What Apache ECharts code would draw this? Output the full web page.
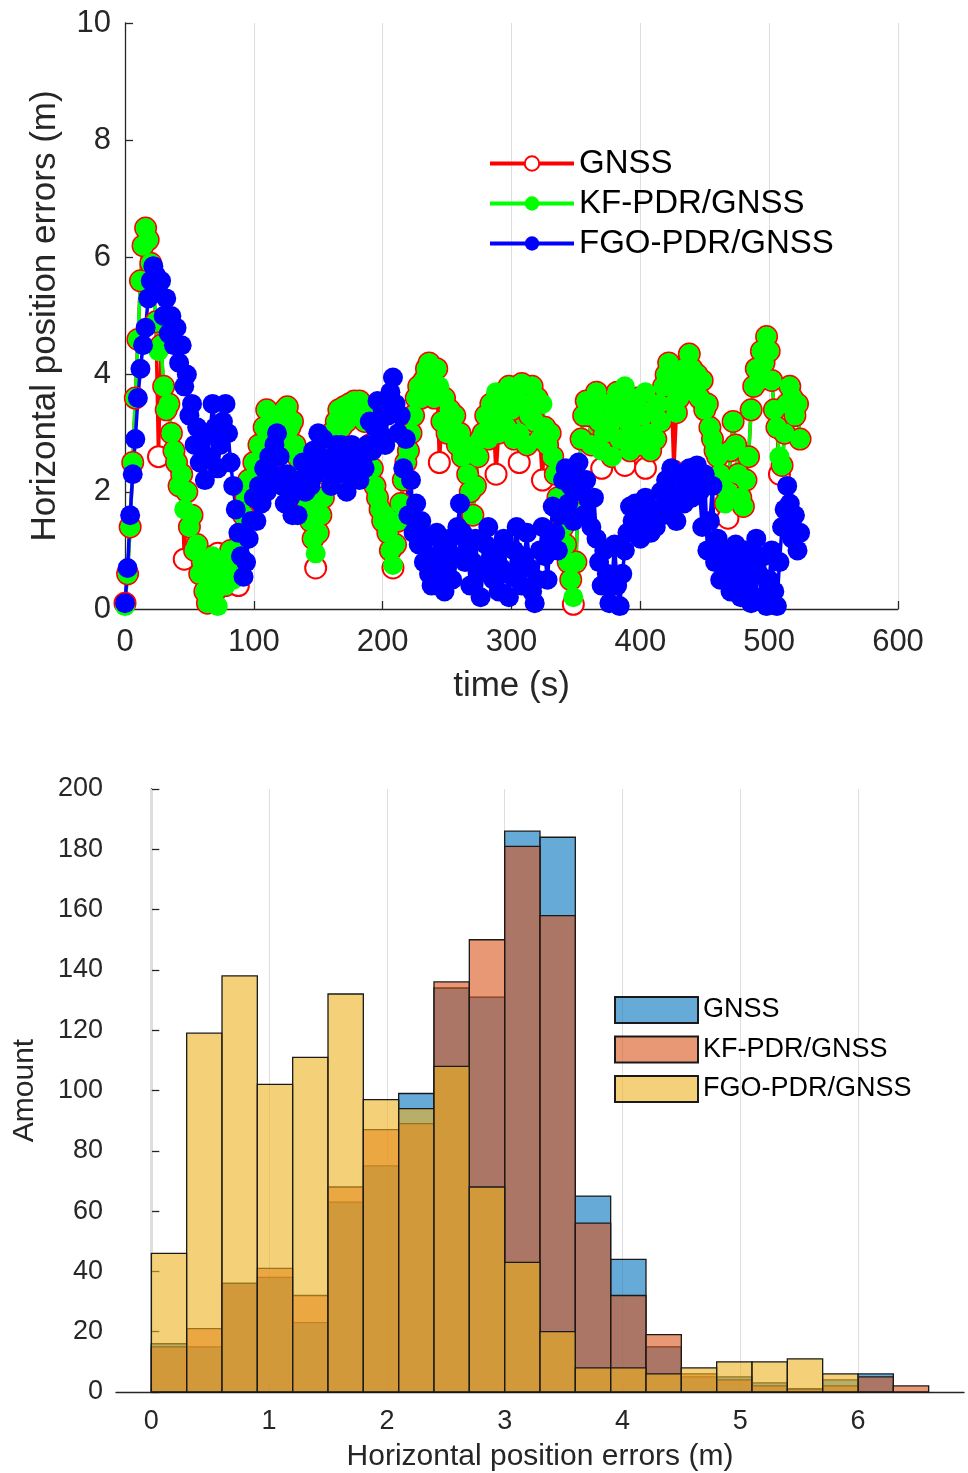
<!DOCTYPE html>
<html>
<head>
<meta charset="utf-8">
<script src="https://cdn.jsdelivr.net/npm/echarts@6/dist/echarts.min.js"></script>
<style>
  html, body { margin: 0; background: #fff; }
  #main { width: 968px; height: 1473px; }
</style>
</head>
<body>
<div id="main"></div>
<script>
// sampling interval of the error series, seconds
const STEP = 2;

// horizontal position errors (m), one value every STEP seconds from t = 0 (20 s per row)
const gnss = [
  0.1, 0.6, 1.4, 2.5, 3.6, 4.6, 5.6, 6.2, 6.5, 6.3,
  5.9, 5.5, 4.9, 2.6, 4.5, 3.8, 3.4, 3.5, 3.0, 2.7,
  2.5, 2.1, 2.3, 0.85, 2.0, 1.4, 1.6, 1.0, 1.1, 0.6,
  0.8, 0.3, 0.1, 0.6, 0.9, 0.3, 0.95, 0.5, 0.8, 0.4,
  0.6, 1.0, 0.5, 0.7, 0.4, 1.2, 1.6, 1.9, 2.2, 2.1,
  2.5, 2.3, 2.8, 2.6, 3.1, 3.4, 3.0, 2.8, 2.6, 3.0,
  3.2, 2.9, 3.4, 3.45, 3.1, 3.2, 2.8, 2.6, 2.4, 2.2,
  2.0, 1.8, 1.5, 1.2, 0.7, 1.3, 1.6, 1.9, 2.3, 2.7,
  3.0, 2.8, 3.2, 3.4, 3.1, 3.45, 3.2, 3.5, 3.3, 3.55,
  3.3, 3.55, 3.4, 3.2, 3.45, 2.8, 2.4, 2.1, 1.9, 1.7,
  1.5, 1.6, 1.3, 1.0, 0.7, 1.1, 1.5, 1.8, 2.2, 2.5,
  2.7, 3.0, 3.3, 3.6, 3.8, 3.6, 3.9, 4.1, 4.2, 3.9,
  3.6, 4.1, 2.5, 3.2, 3.6, 3.0, 3.4, 3.1, 3.3, 2.8,
  3.0, 2.6, 2.8, 2.3, 2.0, 1.6, 2.1, 2.6, 2.9, 3.0,
  3.3, 2.9, 3.5, 3.2, 2.3, 3.0, 3.4, 3.7, 3.1, 3.8,
  3.4, 2.9, 3.6, 2.5, 3.85, 3.5, 2.8, 3.3, 3.8, 3.2,
  3.6, 2.9, 2.2, 3.1, 2.8, 3.0, 2.6, 2.3, 1.9, 1.7,
  1.4, 1.1, 0.8, 0.5, 0.08, 0.8, 2.0, 2.9, 3.3, 3.55,
  3.3, 2.8, 3.4, 3.7, 3.2, 2.4, 3.0, 3.5, 3.1, 2.6,
  3.3, 3.7, 2.9, 3.4, 2.45, 3.2, 2.7, 3.5, 3.0, 3.6,
  2.8, 3.3, 2.4, 3.0, 2.7, 3.4, 2.9, 3.5, 3.2, 3.8,
  4.0, 4.2, 3.8, 2.35, 3.35, 3.6, 3.9, 4.1, 3.8, 4.35,
  4.1, 3.7, 4.0, 3.6, 3.9, 3.4, 3.5, 3.1, 2.9, 2.7,
  2.6, 2.3, 2.1, 1.8, 1.55, 2.7, 3.2, 2.8, 2.3, 1.9,
  1.75, 2.2, 2.6, 3.4, 3.8, 4.1, 3.9, 4.4, 4.2, 4.65,
  4.4, 3.9, 3.4, 3.1, 2.3, 2.45, 3.0, 3.5, 3.8, 3.6,
  3.3, 3.5, 2.9
];
const kfPdr = [
  0.05, 0.6, 1.4, 2.5, 3.6, 4.6, 5.6, 6.2, 6.5, 6.3,
  5.9, 5.5, 4.9, 4.4, 4.5, 3.8, 3.4, 3.5, 3.0, 2.7,
  2.5, 2.1, 2.3, 1.7, 2.0, 1.4, 1.6, 1.0, 1.1, 0.6,
  0.8, 0.3, 0.1, 0.6, 0.9, 0.3, 0.05, 0.5, 0.8, 0.4,
  0.6, 1.0, 0.5, 0.7, 0.8, 1.2, 1.6, 1.9, 2.2, 2.1,
  2.5, 2.3, 2.8, 2.6, 3.1, 3.4, 3.0, 2.8, 2.6, 3.0,
  3.2, 2.9, 3.4, 3.45, 3.1, 3.2, 2.8, 2.6, 2.4, 2.2,
  2.0, 1.8, 1.5, 1.2, 0.95, 1.3, 1.6, 1.9, 2.3, 2.7,
  3.0, 2.8, 3.2, 3.4, 3.1, 3.45, 3.2, 3.5, 3.3, 3.55,
  3.3, 3.55, 3.4, 3.2, 3.45, 2.8, 2.4, 2.1, 1.9, 1.7,
  1.5, 1.6, 1.3, 1.0, 0.75, 1.1, 1.5, 1.8, 2.2, 2.5,
  2.7, 3.0, 3.3, 3.6, 3.8, 3.6, 3.9, 4.1, 4.2, 3.9,
  3.6, 4.1, 3.8, 3.2, 3.6, 3.0, 3.4, 3.1, 3.3, 2.8,
  3.0, 2.6, 2.8, 2.3, 2.0, 1.6, 2.1, 2.6, 2.9, 3.0,
  3.3, 2.9, 3.5, 3.2, 3.7, 3.0, 3.4, 3.7, 3.1, 3.8,
  3.4, 2.9, 3.6, 3.0, 3.85, 3.5, 2.8, 3.3, 3.8, 3.2,
  3.6, 2.9, 3.5, 3.1, 2.8, 3.0, 2.6, 2.3, 1.9, 1.7,
  1.4, 1.1, 0.8, 0.5, 0.2, 0.8, 2.0, 2.9, 3.3, 3.55,
  3.3, 2.8, 3.4, 3.7, 3.2, 2.7, 3.0, 3.5, 3.1, 2.6,
  3.3, 3.7, 2.9, 3.4, 3.8, 3.2, 2.7, 3.5, 3.0, 3.6,
  2.8, 3.3, 3.7, 3.0, 2.7, 3.4, 2.9, 3.5, 3.2, 3.8,
  4.0, 4.2, 3.8, 3.5, 3.35, 3.6, 3.9, 4.1, 3.8, 4.35,
  4.1, 3.7, 4.0, 3.6, 3.9, 3.4, 3.5, 3.1, 2.9, 2.7,
  2.6, 2.3, 2.1, 1.8, 2.0, 2.7, 3.2, 2.8, 2.3, 1.9,
  1.75, 2.2, 2.6, 3.4, 3.8, 4.1, 3.9, 4.4, 4.2, 4.65,
  4.4, 3.9, 3.4, 3.1, 2.6, 2.45, 3.0, 3.5, 3.8, 3.6,
  3.3, 3.5, 2.9
];
const fgoPdr = [
  0.1, 0.7, 1.6, 2.3, 2.9, 3.6, 4.1, 4.5, 4.8, 5.3,
  5.6, 5.85, 5.7, 5.4, 5.6, 5.0, 5.3, 4.7, 5.0, 4.5,
  4.8, 4.2, 4.5, 3.8, 4.0, 3.3, 3.5, 2.8, 3.1, 2.5,
  2.9, 2.2, 2.6, 3.0, 3.5, 3.1, 2.4, 2.8, 3.2, 3.5,
  3.0, 2.5, 2.1, 1.7, 1.3, 0.9, 0.55, 0.8, 1.2, 1.5,
  1.9, 1.5, 2.1, 1.8, 2.4, 2.0, 2.6, 2.3, 2.8, 3.0,
  2.6, 2.1, 1.8, 2.3, 1.9, 1.6, 2.0, 1.6, 2.2, 2.5,
  2.0, 2.4, 2.1, 2.7, 2.3, 3.0, 2.6, 2.9, 2.4, 2.55,
  2.1, 2.5, 2.8, 2.3, 2.8, 2.5, 2.0, 2.4, 2.8, 2.3,
  2.6, 2.2, 2.5, 2.4, 2.8, 3.2, 2.7, 3.1, 3.55, 3.0,
  3.4, 2.8, 3.3, 3.7, 3.95, 3.5, 3.0, 3.3, 2.4, 2.9,
  1.6, 2.2, 1.3, 1.8, 1.1, 1.5, 0.8, 1.2, 0.6, 0.4,
  0.9, 1.3, 0.6, 1.0, 0.3, 0.7, 1.2, 0.5, 0.9, 1.4,
  1.8, 1.3, 0.8, 1.1, 0.4, 0.8, 1.2, 0.6, 0.2, 0.7,
  1.1, 1.4, 0.9, 0.5, 1.0, 0.3, 0.7, 1.2, 0.6, 0.2,
  0.6, 1.0, 1.4, 0.8, 0.4, 0.9, 1.3, 0.7, 0.3, 0.1,
  0.5, 1.0, 1.4, 0.9, 0.5, 1.2, 1.75, 1.3, 1.0, 1.6,
  2.2, 2.4, 1.8, 2.1, 1.5, 2.3, 2.5, 2.0, 1.6, 2.2,
  1.85, 1.4, 1.9, 1.2, 0.8, 0.4, 1.0, 0.6, 0.1, 0.5,
  1.1, 0.4, 0.05, 0.6, 1.0, 1.3, 1.75, 1.5, 1.8, 1.4,
  1.2, 1.6, 1.9, 1.5, 1.3, 1.7, 1.4, 1.6, 2.0, 1.6,
  2.2, 1.8, 2.4, 2.0, 1.5, 1.9, 2.3, 1.8, 2.1, 2.4,
  1.9, 2.3, 2.45, 2.0, 1.4, 2.3, 1.0, 1.5, 2.1, 0.8,
  1.2, 0.5, 1.0, 0.6, 0.9, 0.3, 0.8, 1.1, 0.5, 0.2,
  0.7, 1.0, 0.4, 0.1, 0.8, 1.2, 0.6, 0.2, 0.9, 0.05,
  0.5, 1.0, 0.3, 0.05, 0.8, 1.4, 1.7, 2.1, 1.8, 1.2,
  1.6, 1.0, 1.3
];

// histogram of the errors: bin edges (m) and counts per bin
const binEdges = [0, 0.3, 0.6, 0.9, 1.2, 1.5, 1.8, 2.1, 2.4, 2.7, 3.0, 3.3,
                  3.6, 3.9, 4.2, 4.5, 4.8, 5.1, 5.4, 5.7, 6.0, 6.3, 6.6];
const histGnss = [16, 15, 36, 38, 23, 63, 75, 99, 134, 131, 186, 184, 65, 44, 15, 5, 5, 3, 1, 4, 6, 0];
const histKf   = [15, 21, 36, 41, 32, 68, 87, 89, 136, 150, 181, 158, 56, 32, 19, 6, 4, 2, 1, 2, 5, 2];
const histFgo  = [46, 119, 138, 102, 111, 132, 97, 94, 108, 68, 43, 20, 8, 8, 6, 8, 10, 10, 11, 6, 0, 0];
const histTicks = [0, 1, 2, 3, 4, 5, 6];

const FONT = 'Liberation Sans';
const INK = '#262626';

function toPoints(values) {
  return values.map((v, i) => [i * STEP, v]);
}

function toBins(counts) {
  return counts.map((c, i) => [binEdges[i], binEdges[i + 1], c]);
}

function histSeries(name, counts, fill) {
  return {
    name: name,
    type: 'custom',
    xAxisIndex: 1,
    yAxisIndex: 1,
    z: 3,
    itemStyle: { color: fill, borderColor: '#1a1a1a', borderWidth: 1.3 },
    encode: { x: [0, 1], y: 2 },
    data: toBins(counts),
    renderItem: (params, api) => {
      if (!api.value(2)) return null;
      const p0 = api.coord([api.value(0), api.value(2)]);
      const p1 = api.coord([api.value(1), 0]);
      return {
        type: 'rect',
        shape: { x: p0[0], y: p0[1], width: p1[0] - p0[0], height: p1[1] - p0[1] },
        style: { fill: fill, stroke: '#1a1a1a', lineWidth: 1.3 }
      };
    }
  };
}

function lineSeries(name, values, color, symbol, size) {
  return {
    name: name,
    type: 'line',
    xAxisIndex: 0,
    yAxisIndex: 0,
    data: toPoints(values),
    symbol: symbol,
    symbolSize: size,
    showAllSymbol: true,
    lineStyle: { color: color, width: 3.5 },
    itemStyle: { color: color, borderColor: color, borderWidth: symbol === 'emptyCircle' ? 3.5 : 0 }
  };
}

const chart = echarts.init(document.getElementById('main'), null, { renderer: 'canvas' });

chart.setOption({
  animation: false,
  backgroundColor: '#fff',
  textStyle: { fontFamily: FONT },
  grid: [
    { left: 125, top: 23, width: 773, height: 586 },
    { left: 116, top: 789, width: 848, height: 603 }
  ],
  legend: [
    {
      data: ['GNSS', 'KF-PDR/GNSS', 'FGO-PDR/GNSS'],
      orient: 'vertical',
      left: 488,
      top: 147,
      padding: 0,
      itemWidth: 84,
      itemHeight: 18,
      itemGap: 7,
      lineStyle: { width: 4 },
      textStyle: { fontSize: 33, color: '#000', fontFamily: FONT, lineHeight: 32 }
    },
    {
      data: ['GNSS ', 'KF-PDR/GNSS ', 'FGO-PDR/GNSS '],
      orient: 'vertical',
      left: 614,
      top: 996,
      padding: 0,
      icon: 'rect',
      itemWidth: 83,
      itemHeight: 26,
      itemGap: 11.5,
      textStyle: { fontSize: 27, color: '#000', fontFamily: FONT, lineHeight: 27 }
    }
  ],
  xAxis: [
    {
      type: 'value', gridIndex: 0, min: 0, max: 600, interval: 100,
      name: 'time (s)', nameLocation: 'middle', nameGap: 60,
      nameTextStyle: { fontSize: 35, color: INK, fontFamily: FONT },
      axisLine: { lineStyle: { color: INK, width: 1.3 } },
      axisTick: { inside: true, length: 8, lineStyle: { color: INK, width: 1.3 } },
      axisLabel: { fontSize: 31, color: INK, margin: 18, fontFamily: FONT },
      splitLine: { show: true, lineStyle: { color: '#dedede', width: 1 } }
    },
    {
      type: 'value', gridIndex: 1, min: -0.3, max: 6.9,
      name: 'Horizontal position errors (m)', nameLocation: 'middle', nameGap: 50,
      nameTextStyle: { fontSize: 30, color: INK, fontFamily: FONT },
      axisLine: { lineStyle: { color: INK, width: 1.3 } },
      axisTick: { inside: true, length: 8, customValues: histTicks, lineStyle: { color: INK, width: 1.3 } },
      axisLabel: { fontSize: 27, color: INK, margin: 16, customValues: histTicks, fontFamily: FONT },
      splitLine: { show: false }
    }
  ],
  yAxis: [
    {
      type: 'value', gridIndex: 0, min: 0, max: 10, interval: 2,
      name: 'Horizontal position errors (m)', nameLocation: 'middle', nameGap: 62,
      nameTextStyle: { fontSize: 35, color: INK, fontFamily: FONT },
      axisLine: { show: true, lineStyle: { color: INK, width: 1.3 } },
      axisTick: { show: true, inside: true, length: 8, lineStyle: { color: INK, width: 1.3 } },
      axisLabel: { fontSize: 31, color: INK, margin: 14, fontFamily: FONT },
      splitLine: { show: false }
    },
    {
      type: 'value', gridIndex: 1, min: 0, max: 200, interval: 20,
      name: 'Amount', nameLocation: 'middle', nameGap: 76,
      nameTextStyle: { fontSize: 30, color: INK, fontFamily: FONT },
      axisLine: { show: true, lineStyle: { color: INK, width: 1.3 } },
      axisTick: { show: true, inside: true, length: 8, lineStyle: { color: INK, width: 1.3 } },
      axisLabel: { fontSize: 27, color: INK, margin: 13, fontFamily: FONT },
      splitLine: { show: false }
    }
  ],
  series: [
    lineSeries('GNSS', gnss, '#ff0000', 'emptyCircle', 21),
    lineSeries('KF-PDR/GNSS', kfPdr, '#00ff00', 'circle', 20),
    lineSeries('FGO-PDR/GNSS', fgoPdr, '#0000ff', 'circle', 20),
    {
      // vertical grid lines of the histogram at the tick positions
      type: 'line',
      xAxisIndex: 1,
      yAxisIndex: 1,
      z: 1,
      data: [],
      markLine: {
        z: 1,
        silent: true,
        symbol: 'none',
        label: { show: false },
        lineStyle: { color: '#dedede', width: 1, type: 'solid' },
        data: histTicks.map((v) => ({ xAxis: v }))
      }
    },
    histSeries('GNSS ', histGnss, 'rgba(0,114,189,0.6)'),
    histSeries('KF-PDR/GNSS ', histKf, 'rgba(217,83,25,0.6)'),
    histSeries('FGO-PDR/GNSS ', histFgo, 'rgba(237,177,32,0.6)')
  ]
});
</script>
</body>
</html>
